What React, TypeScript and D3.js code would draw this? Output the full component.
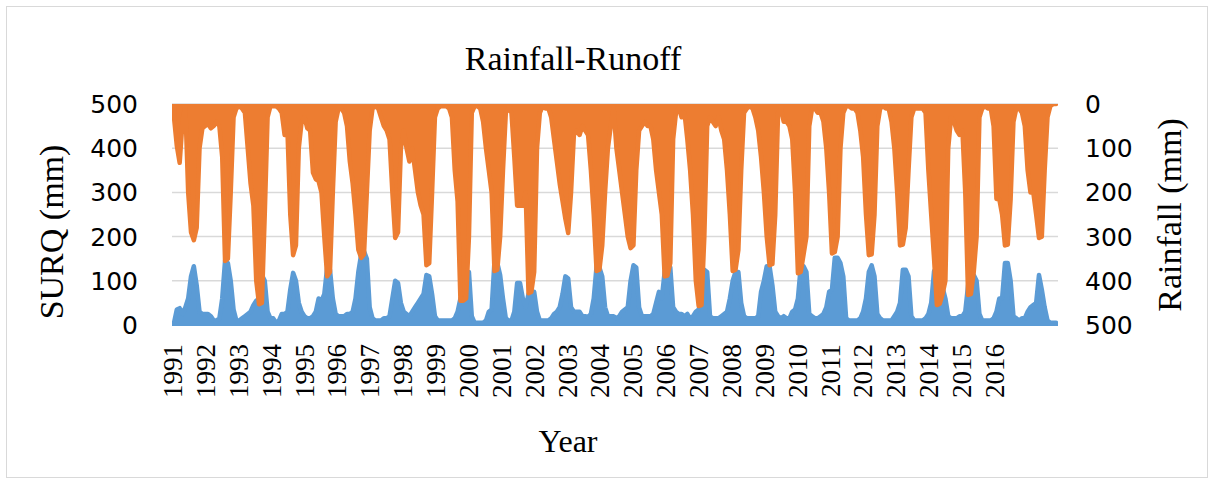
import React from 'react';
import * as d3 from 'd3';

// monthly values, one row per year (Jan..Dec)
const years = [1991, 1992, 1993, 1994, 1995, 1996, 1997, 1998, 1999, 2000, 2001, 2002, 2003,
    2004, 2005, 2006, 2007, 2008, 2009, 2010, 2011, 2012, 2013, 2014, 2015, 2016];

const rainfall = [
    [30, 95, 133, 40, 5, 200, 290, 308, 280, 100, 55, 50],
    [45, 55, 50, 40, 50, 120, 355, 350, 200, 30, 10, 5],
    [10, 20, 100, 180, 230, 400, 453, 450, 250, 30, 5, 5],
    [5, 10, 20, 70, 60, 250, 342, 320, 100, 40, 30, 55],
    [60, 155, 170, 175, 200, 300, 390, 380, 200, 40, 10, 10],
    [20, 50, 130, 180, 250, 330, 348, 340, 200, 60, 10, 5],
    [10, 30, 50, 60, 80, 200, 303, 290, 100, 60, 100, 130],
    [100, 150, 200, 230, 250, 365, 360, 200, 30, 10, 5, 5],
    [5, 10, 30, 150, 220, 445, 445, 440, 300, 20, 5, 5],
    [10, 40, 100, 150, 200, 378, 375, 300, 150, 20, 10, 20],
    [120, 230, 230, 230, 200, 428, 425, 380, 100, 20, 5, 10],
    [10, 30, 80, 130, 180, 220, 260, 292, 200, 70, 60, 70],
    [50, 60, 70, 150, 250, 378, 375, 320, 200, 100, 50, 10],
    [100, 150, 200, 250, 300, 326, 320, 150, 60, 50, 40, 50],
    [50, 80, 150, 200, 250, 390, 388, 360, 80, 20, 10, 30],
    [20, 80, 150, 250, 400, 457, 455, 300, 50, 30, 40, 50],
    [30, 60, 80, 150, 250, 378, 375, 330, 150, 20, 10, 5],
    [10, 30, 60, 120, 200, 300, 365, 362, 250, 20, 10, 40],
    [40, 50, 80, 200, 383, 380, 340, 300, 50, 10, 10, 20],
    [20, 40, 100, 200, 338, 335, 300, 100, 20, 5, 5, 10],
    [10, 20, 60, 120, 250, 342, 340, 250, 50, 10, 5, 10],
    [10, 40, 100, 200, 320, 318, 280, 150, 30, 10, 10, 10],
    [10, 20, 150, 250, 350, 455, 452, 430, 400, 100, 30, 40],
    [60, 70, 60, 200, 432, 430, 380, 300, 30, 10, 5, 10],
    [10, 50, 215, 215, 250, 320, 318, 215, 40, 10, 10, 20],
    [50, 150, 200, 200, 250, 303, 300, 150, 30, 5, 0, 0],
];

const surq = [
    [5, 35, 38, 25, 40, 60, 110, 133, 90, 30, 25, 25],
    [25, 20, 10, 10, 15, 60, 145, 140, 100, 35, 10, 10],
    [15, 20, 25, 30, 45, 55, 60, 113, 100, 30, 15, 15],
    [5, 10, 25, 25, 30, 80, 118, 100, 50, 30, 20, 15],
    [15, 20, 30, 60, 55, 70, 130, 125, 60, 25, 20, 20],
    [20, 25, 25, 30, 60, 120, 160, 167, 150, 40, 15, 10],
    [10, 10, 15, 15, 20, 60, 100, 95, 50, 30, 25, 20],
    [30, 40, 50, 60, 70, 113, 110, 70, 20, 10, 10, 10],
    [10, 10, 10, 15, 30, 60, 70, 120, 120, 20, 5, 5],
    [5, 5, 10, 30, 35, 145, 140, 113, 60, 15, 10, 10],
    [30, 95, 95, 60, 40, 70, 75, 75, 30, 10, 10, 10],
    [10, 15, 25, 30, 40, 70, 110, 105, 40, 30, 30, 30],
    [20, 20, 18, 25, 60, 133, 130, 110, 40, 20, 20, 20],
    [15, 20, 30, 35, 40, 100, 135, 130, 40, 20, 20, 20],
    [20, 25, 50, 75, 60, 120, 140, 130, 40, 30, 25, 25],
    [20, 25, 15, 20, 30, 35, 60, 125, 120, 20, 15, 15],
    [15, 20, 25, 30, 60, 100, 120, 120, 50, 20, 15, 15],
    [15, 15, 20, 75, 100, 133, 133, 90, 30, 20, 15, 20],
    [15, 15, 30, 35, 60, 133, 133, 120, 25, 20, 15, 15],
    [20, 25, 40, 75, 80, 152, 152, 140, 110, 15, 10, 10],
    [10, 10, 15, 30, 60, 120, 135, 110, 25, 15, 10, 10],
    [10, 10, 20, 30, 50, 125, 125, 110, 20, 10, 10, 10],
    [10, 15, 25, 50, 122, 120, 85, 85, 60, 20, 15, 15],
    [15, 20, 20, 30, 90, 113, 113, 100, 25, 10, 10, 10],
    [10, 15, 30, 60, 60, 140, 140, 100, 20, 15, 10, 15],
    [15, 30, 40, 45, 50, 113, 80, 40, 10, 5, 5, 5],
];

const leftTicks = [0, 100, 200, 300, 400, 500];
const rightTicks = [0, 100, 200, 300, 400, 500];

const plot = { left: 172, right: 1058, top: 104, bottom: 325 };
const serif = '"Liberation Serif", "Times New Roman", serif';
const sans = '"DejaVu Sans", sans-serif';

const App = () => {
    const rainSeries = rainfall.flat();
    const surqSeries = surq.flat();

    const xScale = d3.scaleLinear()
        .domain([0, rainSeries.length - 1])
        .range([plot.left + 2, plot.right - 2]);

    const yLeft = d3.scaleLinear().domain([0, 500]).range([plot.bottom, plot.top]);
    const yRight = d3.scaleLinear().domain([0, 500]).range([plot.top, plot.bottom]);

    const xLabels = d3.scalePoint()
        .domain(years.map(String))
        .range([173, 995]);

    // dense series drawn thick: fill from the axis to the value, like the original
    const surqArea = d3.area<number>()
        .x((d, i) => xScale(i))
        .y0(yLeft(0))
        .y1(d => yLeft(d));

    const rainArea = d3.area<number>()
        .x((d, i) => xScale(i))
        .y0(yRight(0))
        .y1(d => yRight(d));

    return (
        <svg width={1215} height={484} style={{ position: 'absolute', left: 0, top: 0, background: '#fff' }}>
            <defs>
                <clipPath id="plotClip">
                    <rect x={plot.left} y={plot.top} width={plot.right - plot.left} height={plot.bottom - plot.top + 1} />
                </clipPath>
            </defs>
            <rect x={6.5} y={6.5} width={1201} height={471} fill="#fff" stroke="#d9d9d9" />

            <text x={573} y={70} textAnchor="middle" fontFamily={serif} fontSize={34}>Rainfall-Runoff</text>

            {/* gridlines */}
            {leftTicks.map(t => (
                <line key={t} x1={plot.left} x2={plot.right} y1={yLeft(t)} y2={yLeft(t)}
                    stroke="#d9d9d9" strokeWidth={1.5} />
            ))}

            <g clipPath="url(#plotClip)">
                <path d={surqArea(surqSeries) || ''} fill="#5b9bd5" stroke="#5b9bd5" strokeWidth={4.5} strokeLinejoin="round" />
                <path d={rainArea(rainSeries) || ''} fill="#ed7d31" stroke="#ed7d31" strokeWidth={4.5} strokeLinejoin="round" />
            </g>

            {/* left axis */}
            {leftTicks.map(t => (
                <text key={t} x={138} y={yLeft(t)} dy="0.36em" textAnchor="end" fontFamily={sans} fontSize={25} fill="#000">{t}</text>
            ))}
            <text transform={`translate(63,232)rotate(-90)`} textAnchor="middle"
                fontFamily={serif} fontSize={34}>SURQ (mm)</text>

            {/* right axis */}
            {rightTicks.map(t => (
                <text key={t} x={1085} y={yRight(t)} dy="0.36em" textAnchor="start" fontFamily={sans} fontSize={25} fill="#000">{t}</text>
            ))}
            <text transform={`translate(1181,215)rotate(-90)`} textAnchor="middle"
                fontFamily={serif} fontSize={34}>Rainfall (mm)</text>

            {/* x axis */}
            {years.map(y => (
                <text key={y} transform={`translate(${(xLabels(String(y)) || 0) + 9},344)rotate(-90)`} textAnchor="end"
                    fontFamily={serif} fontSize={27}>{y}</text>
            ))}
            <text x={568} y={452} textAnchor="middle" fontFamily={serif} fontSize={32}>Year</text>
        </svg>
    );
};

export default App;
